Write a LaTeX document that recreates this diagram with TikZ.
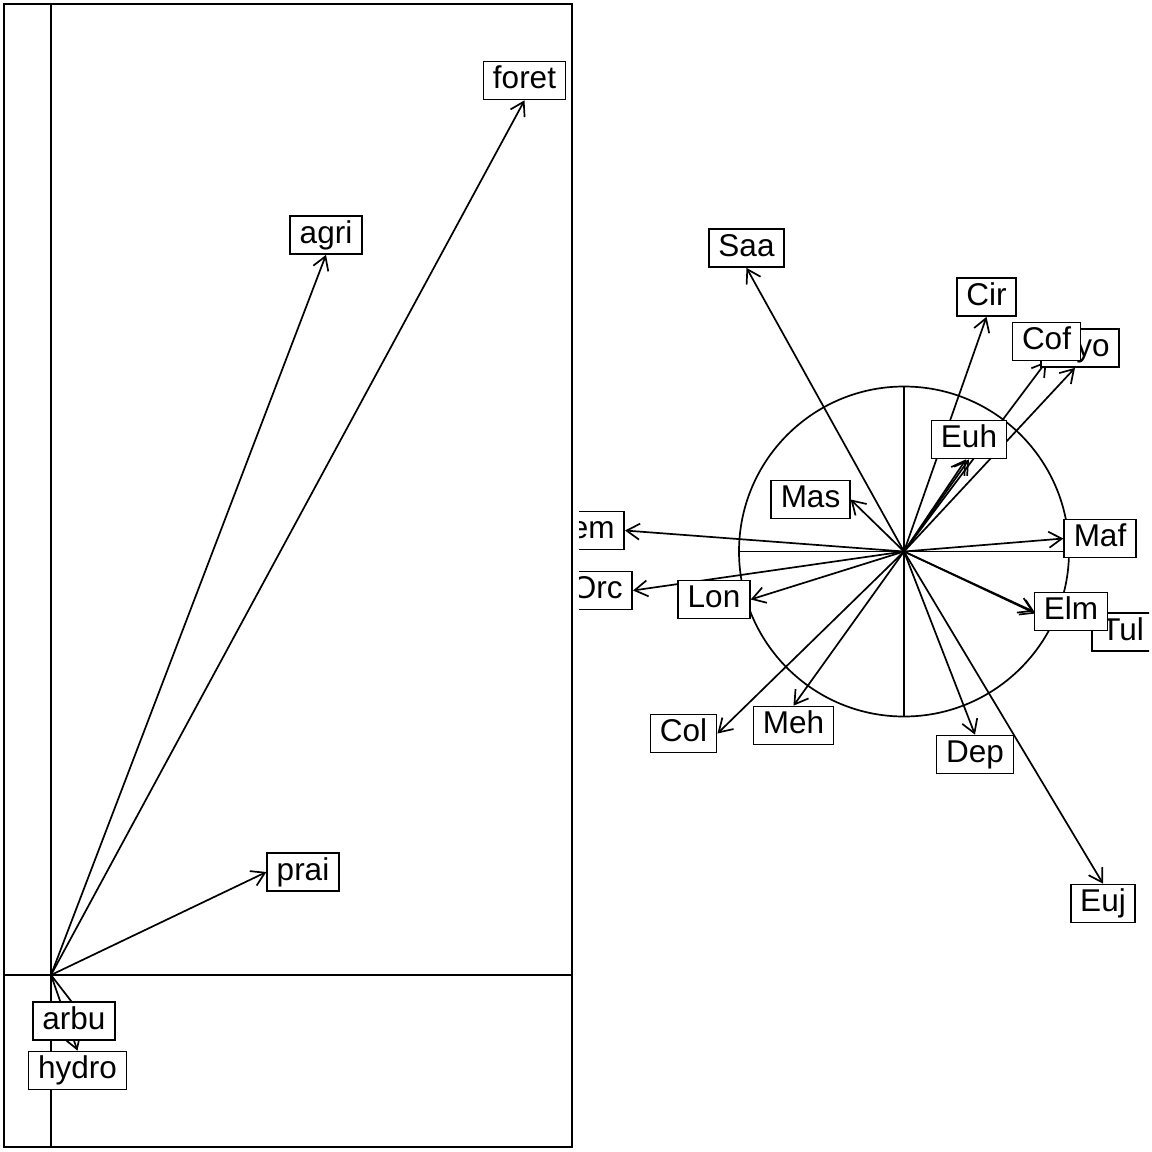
\documentclass[tikz,border=0pt]{standalone}
\usepackage{fontspec}
\setmainfont{Liberation Sans}
\usetikzlibrary{arrows.meta,backgrounds,calc}

\begin{document}
\begin{tikzpicture}[x=1pt,y=1pt,line width=1.7pt,
  ln/.style={black,line width=1.7pt},
  lbl/.style={draw=black,fill=white,font=\fontsize{31.5}{36}\selectfont,inner xsep=9.5pt,inner ysep=3.5pt,text height=23.5pt,text depth=7.5pt},
  arr/.style={ln,-{Straight Barb[length=13pt,width=16pt]}}]
\useasboundingbox (0,0) rectangle (1152,-1152);
\coordinate (o) at (51,-975);
\coordinate (c) at (904,-551.5);
\node [lbl] (foret) at (524.5,-80.5) {foret};
\node [lbl] (agri) at (326,-235) {agri};
\node [lbl] (prai) at (303,-872) {prai};
\node [lbl] (arbu) at (74,-1021) {arbu};
\node [lbl] (hydro) at (77.5,-1070.5) {hydro};
\begin{scope}[on background layer]
\draw [ln] (4,-4) rectangle (572,-1147);
\draw [ln] (51,-4) -- (51,-1147);
\draw [ln] (4,-975) -- (572,-975);
\draw [arr] (o) -- (foret.south);
\draw [arr] (o) -- (agri.south);
\draw [arr] (o) -- (prai.west);
\draw [arr] (o) -- ($(arbu.center)+(14,-2)$);
\draw [arr] (o) -- (hydro.north);
\end{scope}
\begin{scope}
\clip (579,0) rectangle (1149,-1152);
\node [lbl] (Saa) at (746.5,-248) {Saa};
\node [lbl] (Cir) at (986.5,-297) {Cir};
\node [lbl] (yo) at (1080,-348) {\phantom{M}yo};
\node [lbl] (Cof) at (1046.5,-341.5) {Cof};
\node [lbl] (Euh) at (969,-439.5) {Euh};
\node [lbl] (Mas) at (810.5,-499.5) {Mas};
\node [lbl,anchor=east] (em) at (625,-530.5) {em};
\node [lbl,anchor=east] (Orc) at (633,-590.5) {Orc};
\node [lbl] (Lon) at (714,-599.5) {Lon};
\node [lbl] (Maf) at (1100,-538.5) {Maf};
\node [lbl,anchor=west] (Tul) at (1091,-632) {Tul};
\node [lbl] (Elm) at (1071,-611.5) {Elm};
\node [lbl] (Col) at (683.5,-733.5) {Col};
\node [lbl] (Meh) at (793.5,-725.5) {Meh};
\node [lbl] (Dep) at (975,-754.5) {Dep};
\node [lbl] (Euj) at (1103,-903.5) {Euj};
\end{scope}
\begin{scope}[on background layer]
\clip (579,0) rectangle (1149,-1152);
\draw [ln] (c) circle (165);
\draw [ln] (904,-386.5) -- (904,-716.5);
\draw [ln] (739,-551.5) -- (1069,-551.5);
\draw [arr] (c) -- (Saa.south);
\draw [arr] (c) -- (Cir.south);
\draw [arr] (c) -- (Cof.south);
\draw [arr] (c) -- ($(yo.south)+(-5,0)$);
\draw [arr] (c) -- (Euh.south);
\draw [arr] (c) -- ($(Euh.south)+(-3,0)$);
\draw [arr] (c) -- (Mas.east);
\draw [arr] (c) -- (em.east);
\draw [arr] (c) -- (Orc.east);
\draw [arr] (c) -- (Lon.east);
\draw [arr] (c) -- (Maf.west);
\draw [arr] (c) -- (Elm.west);
\draw [arr] (c) -- ($(Elm.west)+(2,-2)$);
\draw [arr] (c) -- (Col.east);
\draw [arr] (c) -- (Meh.north);
\draw [arr] (c) -- (Dep.north);
\draw [arr] (c) -- (Euj.north);
\end{scope}
\end{tikzpicture}
\end{document}
